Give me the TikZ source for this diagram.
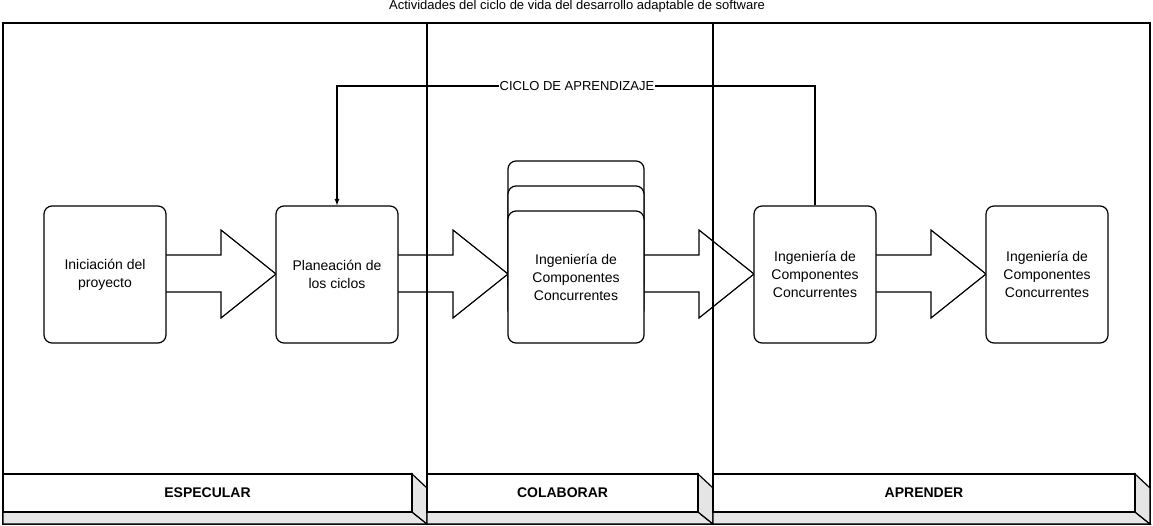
\documentclass[tikz,border=0pt]{standalone}
\usepackage{fontspec}
\setmainfont{Liberation Sans}
\begin{document}
\begin{tikzpicture}[x=1pt,y=-1pt,line width=1.2pt,
  box/.style={draw,rounded corners=8pt,fill=white,align=center,font=\fontsize{14}{18}\selectfont,inner sep=0},
  barf/.style={draw,fill=white},
  bars/.style={draw,fill=black!10},
  lbl/.style={font=\bfseries\fontsize{14}{16}\selectfont}]
\useasboundingbox (0,0) rectangle (1153,526);
\node[font=\fontsize{13}{15}\selectfont] (title) at (577,6) {Actividades del ciclo de vida del desarrollo adaptable de software};
% block arrows
\foreach \s in {166,398,644,876}{
  \draw[fill=white] (\s,255) -- (\s+55,255) -- (\s+55,230) -- (\s+110,274) -- (\s+55,318) -- (\s+55,292) -- (\s,292);
}
\draw (3,23) rectangle (1150,524);
\draw (427,23) -- (427,524);
\draw (713,23) -- (713,524);
% bottom 3D bars
\foreach \a/\b/\t/\n in {3/427/ESPECULAR/l1, 427/713/COLABORAR/l2, 713/1150/APRENDER/l3}{
  \draw[bars] (\a,512) -- (\b-15,512) -- (\b,524) -- (\a,524) -- cycle;
  \draw[bars] (\b-15,474) -- (\b,488) -- (\b,524) -- (\b-15,512) -- cycle;
  \draw[barf] (\a,474) rectangle (\b-15,512);
  \node[lbl] (\n) at ({(\a+\b-15)/2},493) {\t};
}
\node[box,minimum width=122pt,minimum height=137pt] (a) at (105,274.5) {Iniciación del\\proyecto};
\node[box,minimum width=122pt,minimum height=137pt] (b) at (337,274.5) {Planeación de\\los ciclos};
\node[box,minimum width=136pt,minimum height=132pt] (c3) at (576,227) {};
\node[box,minimum width=136pt,minimum height=132pt] (c2) at (576,252) {};
\node[box,minimum width=136pt,minimum height=132pt] (c) at (576,277) {Ingeniería de\\Componentes\\Concurrentes};
\node[box,minimum width=122pt,minimum height=137pt] (d) at (815,274.5) {Ingeniería de\\Componentes\\Concurrentes};
\node[box,minimum width=122pt,minimum height=137pt] (e) at (1047,274.5) {Ingeniería de\\Componentes\\Concurrentes};
\coordinate (k1) at (815,86);
\coordinate (k2) at (337,86);
\draw[-latex] (d.north) -- (k1) -- (k2) -- (b.north);
\node[fill=white,inner sep=1pt,font=\fontsize{13}{15}\selectfont] (cl) at (577,86) {CICLO DE APRENDIZAJE};
\end{tikzpicture}
\end{document}
